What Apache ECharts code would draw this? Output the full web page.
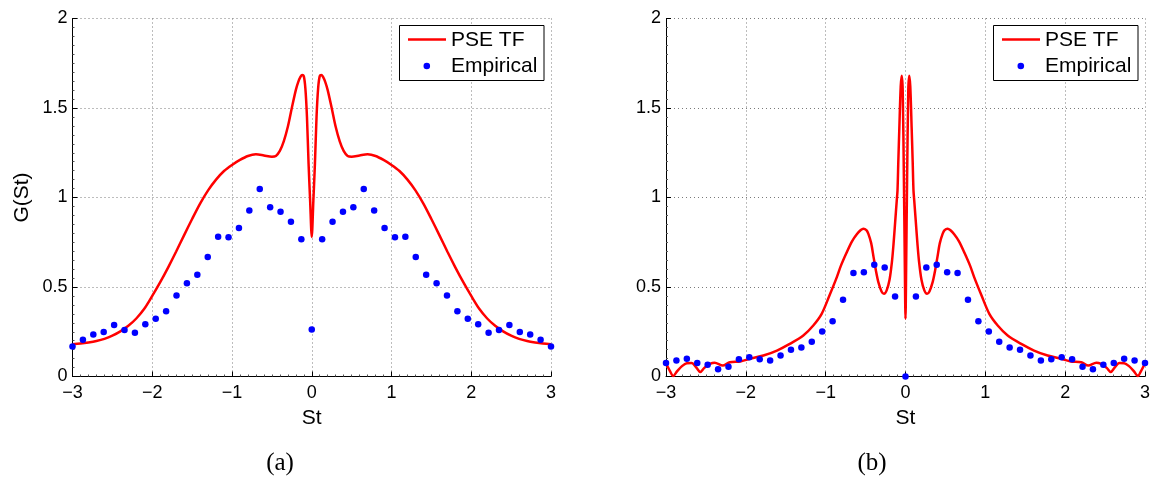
<!DOCTYPE html>
<html>
<head>
<meta charset="utf-8">
<script src="https://cdn.jsdelivr.net/npm/echarts@6/dist/echarts.min.js"></script>
<style>
html,body{margin:0;padding:0;background:#fff;}
#chart{width:1153px;height:479px;}
</style>
</head>
<body>
<div id="chart"></div>
<script>
// ---------- data ----------
const xTickValues = [-3, -2, -1, 0, 1, 2, 3];
const yTickValues = [0, 0.5, 1, 1.5, 2];
const legendNames = ['PSE TF', 'Empirical'];
const panelLabels = ['(a)', '(b)'];
const axisNames = { x: 'St', y: 'G(St)' };

// Empirical sample positions (St)
const empX = [-3, -2.8696, -2.7391, -2.6087, -2.4783, -2.3478, -2.2174, -2.0870, -1.9565, -1.8261, -1.6957, -1.5652,
  -1.4348, -1.3043, -1.1739, -1.0435, -0.9130, -0.7826, -0.6522, -0.5217, -0.3913, -0.2609, -0.1304, 0,
  0.1304, 0.2609, 0.3913, 0.5217, 0.6522, 0.7826, 0.9130, 1.0435, 1.1739, 1.3043, 1.4348, 1.5652,
  1.6957, 1.8261, 1.9565, 2.0870, 2.2174, 2.3478, 2.4783, 2.6087, 2.7391, 2.8696, 3];

// Panel (a) empirical values
const empA = [0.167, 0.205, 0.234, 0.249, 0.288, 0.260, 0.244, 0.292, 0.322, 0.365, 0.452, 0.521,
  0.569, 0.668, 0.781, 0.778, 0.830, 0.927, 1.047, 0.945, 0.921, 0.865, 0.767, 0.262,
  0.767, 0.865, 0.921, 0.945, 1.047, 0.927, 0.830, 0.778, 0.781, 0.668, 0.569, 0.521,
  0.452, 0.365, 0.322, 0.292, 0.244, 0.260, 0.288, 0.249, 0.234, 0.205, 0.167];

// Panel (b) empirical values
const empB = [0.075, 0.089, 0.099, 0.076, 0.065, 0.041, 0.054, 0.097, 0.108, 0.097, 0.089, 0.117,
  0.149, 0.162, 0.194, 0.252, 0.309, 0.429, 0.578, 0.583, 0.624, 0.609, 0.447, 0.0,
  0.447, 0.609, 0.624, 0.583, 0.578, 0.429, 0.309, 0.252, 0.194, 0.162, 0.149, 0.117,
  0.089, 0.097, 0.108, 0.097, 0.054, 0.041, 0.065, 0.076, 0.099, 0.089, 0.075];

// Panel (a) PSE TF curve
const curveAX = [-3, -2.9, -2.8, -2.7, -2.6, -2.5, -2.4, -2.3, -2.2, -2.1, -2.0, -1.9, -1.8, -1.7, -1.6, -1.5,
  -1.4, -1.3, -1.2, -1.1, -1.0, -0.9, -0.8, -0.7, -0.6, -0.5, -0.45, -0.4, -0.35, -0.3, -0.25, -0.2,
  -0.17, -0.14, -0.12, -0.1, -0.08, -0.06, -0.04, -0.02, 0,
  0.02, 0.04, 0.06, 0.08, 0.1, 0.12, 0.14, 0.17, 0.2, 0.25, 0.3, 0.35, 0.4, 0.45, 0.5,
  0.6, 0.7, 0.8, 0.9, 1.0, 1.1, 1.2, 1.3, 1.4, 1.5, 1.6, 1.7, 1.8, 1.9, 2.0, 2.1, 2.2, 2.3, 2.4,
  2.5, 2.6, 2.7, 2.8, 2.9, 3];
const curveAY = [0.180, 0.184, 0.190, 0.198, 0.210, 0.228, 0.252, 0.283, 0.324, 0.378, 0.450, 0.527, 0.610, 0.698, 0.790, 0.880,
  0.966, 1.040, 1.100, 1.148, 1.182, 1.210, 1.232, 1.241, 1.235, 1.228, 1.232, 1.260, 1.315, 1.395, 1.500, 1.600,
  1.645, 1.675, 1.685, 1.678, 1.610, 1.450, 1.190, 0.980, 0.780,
  0.980, 1.190, 1.450, 1.610, 1.678, 1.685, 1.675, 1.645, 1.600, 1.500, 1.395, 1.315, 1.260, 1.232, 1.228,
  1.235, 1.241, 1.232, 1.210, 1.182, 1.148, 1.100, 1.040, 0.966, 0.880, 0.790, 0.698, 0.610, 0.527, 0.450, 0.378, 0.324, 0.283, 0.252,
  0.228, 0.210, 0.198, 0.190, 0.184, 0.180];

// Panel (b) PSE TF curve
const curveBX = [-3, -2.95, -2.91, -2.86, -2.8, -2.74, -2.68, -2.62, -2.57, -2.52, -2.45, -2.39, -2.29, -2.2, -2.07,
  -1.95, -1.78, -1.61, -1.45, -1.28, -1.155, -1.05, -0.95, -0.86, -0.81, -0.74, -0.67, -0.61, -0.56, -0.528,
  -0.49, -0.466, -0.43, -0.4, -0.37, -0.34, -0.3, -0.27, -0.236, -0.2, -0.17, -0.15, -0.13, -0.11, -0.1,
  -0.09, -0.077, -0.06, -0.047, -0.035, -0.02, -0.008, 0,
  0.008, 0.02, 0.035, 0.047, 0.06, 0.077, 0.09, 0.1, 0.11, 0.13, 0.15, 0.17, 0.2, 0.236, 0.27, 0.3, 0.34,
  0.37, 0.4, 0.43, 0.466, 0.49, 0.528, 0.56, 0.61, 0.67, 0.74, 0.81, 0.86, 0.95, 1.05, 1.155, 1.28,
  1.45, 1.61, 1.78, 1.95, 2.07, 2.2, 2.29, 2.39, 2.45, 2.52, 2.57, 2.62, 2.68, 2.74, 2.8, 2.86, 2.91, 2.95, 3];
const curveBY = [0.074, 0.030, 0.003, 0.030, 0.058, 0.074, 0.075, 0.050, 0.025, 0.048, 0.070, 0.077, 0.061, 0.080, 0.084,
  0.099, 0.117, 0.145, 0.182, 0.229, 0.285, 0.350, 0.455, 0.555, 0.618, 0.690, 0.755, 0.795, 0.818, 0.826,
  0.818, 0.798, 0.745, 0.667, 0.590, 0.527, 0.475, 0.462, 0.481, 0.540, 0.640, 0.740, 0.860, 0.980, 1.040,
  1.200, 1.390, 1.620, 1.680, 1.600, 1.100, 0.600, 0.322,
  0.600, 1.100, 1.600, 1.680, 1.620, 1.390, 1.200, 1.040, 0.980, 0.860, 0.740, 0.640, 0.540, 0.481, 0.462, 0.475, 0.527,
  0.590, 0.667, 0.745, 0.798, 0.818, 0.826, 0.818, 0.795, 0.755, 0.690, 0.618, 0.555, 0.455, 0.350, 0.285, 0.229,
  0.182, 0.145, 0.117, 0.099, 0.084, 0.080, 0.061, 0.077, 0.070, 0.048, 0.025, 0.050, 0.075, 0.074, 0.058, 0.030, 0.003, 0.030, 0.074];

// ---------- chart ----------
const SANS = '"Liberation Sans", Arial, Helvetica, sans-serif';
const SERIF = '"Liberation Serif", "DejaVu Serif", serif';
const grids = [
  { left: 72.5, top: 18.5, width: 478.5, height: 358 },
  { left: 666, top: 18.5, width: 479, height: 358 }
];
const pairs = (xs, ys) => xs.map((x, i) => [x, ys[i]]);
const minusFmt = v => String(v).replace('-', '\u2212');

function xAxisFor(idx) {
  return {
    gridIndex: idx, type: 'value', min: xTickValues[0], max: xTickValues[xTickValues.length - 1], interval: 1,
    axisLine: { onZero: false, lineStyle: { color: '#000', width: 1 } },
    axisTick: { inside: true, length: 5, lineStyle: { color: '#000' } },
    minorTick: { show: true, splitNumber: 10, length: 2, lineStyle: { color: '#555' } },
    axisLabel: { formatter: minusFmt, color: '#000', fontSize: 18, fontFamily: SANS, margin: 8 },
    splitLine: { show: true, lineStyle: { color: '#7a7a7a', width: 1, type: [1, 3] } },
    name: axisNames.x, nameLocation: 'middle', nameGap: 28,
    nameTextStyle: { color: '#000', fontSize: 21, fontFamily: SANS }
  };
}
function yAxisFor(idx, withName) {
  return {
    gridIndex: idx, type: 'value', min: yTickValues[0], max: yTickValues[yTickValues.length - 1], interval: 0.5,
    axisLine: { show: true, onZero: false, lineStyle: { color: '#000', width: 1 } },
    axisTick: { show: true, inside: true, length: 5, lineStyle: { color: '#000' } },
    minorTick: { show: true, splitNumber: 10, length: 2, lineStyle: { color: '#555' } },
    axisLabel: { color: '#000', fontSize: 18, fontFamily: SANS, margin: 5 },
    splitLine: { show: true, lineStyle: { color: '#7a7a7a', width: 1, type: [1, 3] } },
    name: withName ? axisNames.y : '', nameLocation: 'middle', nameGap: 40, nameRotate: 90,
    nameTextStyle: { color: '#000', fontSize: 21, fontFamily: SANS }
  };
}

function legendGraphics(g) {
  const right = g.left + g.width;
  const bx = right - 151.5, by = 25.5;
  return [
    { type: 'rect', shape: { x: bx, y: by, width: 144.5, height: 55 }, style: { fill: '#fff', stroke: '#000', lineWidth: 1 }, z: 100 },
    { type: 'line', shape: { x1: bx + 8.5, y1: 39.5, x2: bx + 46.5, y2: 39.5 }, style: { stroke: '#ff0000', lineWidth: 2.5 }, z: 101 },
    { type: 'text', x: bx + 51.5, y: 40.5, style: { text: legendNames[0], fill: '#000', fontSize: 21, fontFamily: SANS, verticalAlign: 'middle', align: 'left' }, z: 101 },
    { type: 'circle', shape: { cx: bx + 27.3, cy: 66, r: 3.3 }, style: { fill: '#0000ff' }, z: 101 },
    { type: 'text', x: bx + 51.5, y: 66, style: { text: legendNames[1], fill: '#000', fontSize: 21, fontFamily: SANS, verticalAlign: 'middle', align: 'left' }, z: 101 }
  ];
}

const chart = echarts.init(document.getElementById('chart'), null, { renderer: 'canvas' });
chart.setOption({
  backgroundColor: '#fff',
  animation: false,
  grid: grids.map(g => Object.assign({ containLabel: false }, g)),
  xAxis: [xAxisFor(0), xAxisFor(1)],
  yAxis: [yAxisFor(0, true), yAxisFor(1, false)],
  series: [
    { name: legendNames[0], type: 'line', xAxisIndex: 0, yAxisIndex: 0, data: pairs(curveAX, curveAY),
      symbol: 'none', showSymbol: false, smooth: 0.3, lineStyle: { color: '#ff0000', width: 2.5 }, z: 2 },
    { name: legendNames[1], type: 'scatter', xAxisIndex: 0, yAxisIndex: 0, data: pairs(empX, empA),
      symbol: 'circle', symbolSize: 6.5, itemStyle: { color: '#0000ff', opacity: 1 }, z: 3 },
    { name: legendNames[0], type: 'line', xAxisIndex: 1, yAxisIndex: 1, data: pairs(curveBX, curveBY),
      symbol: 'none', showSymbol: false, smooth: 0.3, lineStyle: { color: '#ff0000', width: 2.5 }, z: 2 },
    { name: legendNames[1], type: 'scatter', xAxisIndex: 1, yAxisIndex: 1, data: pairs(empX, empB),
      symbol: 'circle', symbolSize: 6.5, itemStyle: { color: '#0000ff', opacity: 1 }, z: 3 }
  ],
  graphic: [
    ...legendGraphics(grids[0]),
    ...legendGraphics(grids[1]),
    { type: 'text', x: 280, y: 463.5, style: { text: panelLabels[0], fill: '#000', fontSize: 25, fontFamily: SERIF, align: 'center', verticalAlign: 'middle' } },
    { type: 'text', x: 872, y: 463.5, style: { text: panelLabels[1], fill: '#000', fontSize: 25, fontFamily: SERIF, align: 'center', verticalAlign: 'middle' } }
  ]
});
</script>
</body>
</html>
